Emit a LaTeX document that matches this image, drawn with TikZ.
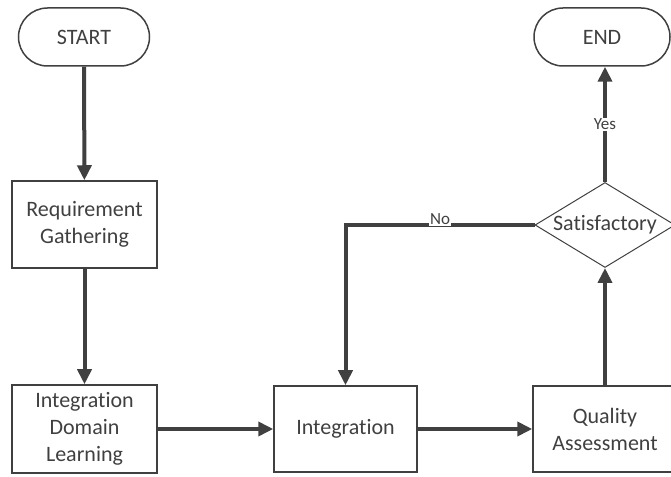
\documentclass[tikz,border=0pt]{standalone}
\usepackage{fontspec}
\setmainfont{Carlito}[Ligatures=CommonOff]
\usepackage{tikz}
\usetikzlibrary{arrows.meta}
\usetikzlibrary{shapes.geometric}
\definecolor{ink}{HTML}{404040}
\tikzset{box/.style = {draw=ink, line width=1.5pt, text=ink, align=center,
                       minimum width=145pt, minimum height=87pt,
                       font=\fontsize{22}{27}\selectfont}}
\tikzset{term/.style = {box, rounded corners=29pt, minimum width=131pt, minimum height=58pt}}
\tikzset{decision/.style = {diamond, draw=ink, line width=1pt, text=ink, aspect=1.65,
                            inner sep=0, minimum width=140pt, minimum height=85pt,
                            font=\fontsize{22}{27}\selectfont}}
\tikzset{flow/.style = {draw=ink, line width=4pt, -{Triangle[length=15pt, width=14pt]}}}
\tikzset{lbl/.style = {fill=white, text=ink, inner sep=1pt, font=\fontsize{17}{20}\selectfont}}

\begin{document}
\begin{tikzpicture}[x=1pt, y=1pt]
    \useasboundingbox (0, 0) rectangle (671, 476);

    \node [term] (start) at (84, 439) {START};
    \node [term, minimum width=136pt] (end) at (602, 439) {END};
    \node [box] (req) at (84.5, 251.5) {Requirement\\Gathering};
    \node [box, minimum height=88pt] (learn) at (84.5, 47) {Integration\\Domain\\Learning};
    \node [box, minimum width=143pt, minimum height=86pt] (integ) at (345.5, 47) {Integration};
    \node [box, minimum width=144pt, minimum height=86pt] (qual) at (605, 47) {Quality\\Assessment};
    \node [decision] (sat) at (605, 251) {Satisfactory};

    \draw [flow] (start) -- (req);
    \draw [flow] (req) -- (learn);
    \draw [flow] (learn) -- (integ);
    \draw [flow] (integ) -- (qual);
    \draw [flow] (qual) -- (sat);
    \draw [flow] (sat.north) -- node [lbl] {Yes} (sat.north |- end.south);
    \draw [flow] (sat.west) -- node [lbl, above, yshift=-3pt] {No} (integ.north |- sat.west) -- (integ.north);
\end{tikzpicture}
\end{document}
